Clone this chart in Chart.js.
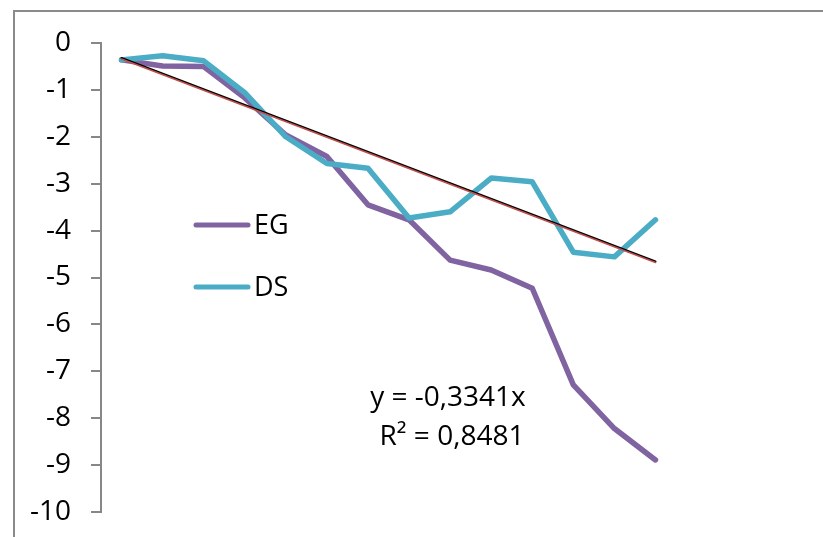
<!DOCTYPE html>
<html>
<head>
<meta charset="utf-8">
<script src="https://cdn.jsdelivr.net/npm/chart.js@4.4.1/dist/chart.umd.min.js"></script>
<style>
    html, body { margin: 0; padding: 0; background: #fff; overflow: hidden; }
    #wrap { position: relative; width: 823px; height: 537px; }
    #frame {
        position: absolute; left: 13px; top: 10px; right: -10px; bottom: -10px;
        border: 2px solid #8a8a8a; pointer-events: none;
    }
</style>
</head>
<body>
<div id="wrap">
    <canvas id="chart" width="823" height="537"></canvas>
    <div id="frame"></div>
</div>
<script>
// data
const categories = ["1", "2", "3", "4", "5", "6", "7", "8", "9", "10", "11", "12", "13", "14"];
const egValues = [-0.36, -0.49, -0.50, -1.17, -1.96, -2.42, -3.45, -3.77, -4.63, -4.84, -5.23, -7.29, -8.22, -8.89];
const dsValues = [-0.36, -0.27, -0.38, -1.06, -2.00, -2.57, -2.67, -3.73, -3.60, -2.88, -2.96, -4.46, -4.56, -3.77];
// trendlines: only the two end points, the library joins them
const trendBlack = [-0.32, null, null, null, null, null, null, null, null, null, null, null, null, -4.66];
const trendRed = [-0.34, null, null, null, null, null, null, null, null, null, null, null, null, -4.68];
const yTicks = [0, -1, -2, -3, -4, -5, -6, -7, -8, -9, -10];
const equationLines = ["y = -0,3341x", "R² = 0,8481"];

const FONT = "'Open Sans', 'DejaVu Sans', sans-serif";
const EG_COLOR = "#8064a2";
const DS_COLOR = "#4bacc6";
const AXIS_GREY = "#878787";

// legend + equation drawn inside the plot like the original
const overlayPlugin = {
    id: "overlay",
    afterDraw(chart) {
        const ctx = chart.ctx;
        const items = [
            { label: "EG", color: EG_COLOR, y: 225 },
            { label: "DS", color: DS_COLOR, y: 287 }
        ];
        ctx.save();
        ctx.lineCap = "round";
        items.forEach(it => {
            ctx.strokeStyle = it.color;
            ctx.lineWidth = 5;
            ctx.beginPath();
            ctx.moveTo(196, it.y);
            ctx.lineTo(248, it.y);
            ctx.stroke();
            ctx.fillStyle = "#000";
            ctx.font = "27px " + FONT;
            ctx.textBaseline = "middle";
            ctx.textAlign = "left";
            ctx.fillText(it.label, 254, it.y + 1);
        });
        ctx.font = "28px " + FONT;
        ctx.textAlign = "center";
        ctx.fillText(equationLines[0], 448, 398);
        ctx.fillText(equationLines[1], 452, 437);
        ctx.restore();
    }
};

new Chart(document.getElementById("chart").getContext("2d"), {
    type: "line",
    data: {
        labels: categories,
        datasets: [
            { label: "trend red", data: trendRed, borderColor: "#c0504d", borderWidth: 1.5, spanGaps: true, order: 0 },
            { label: "trend black", data: trendBlack, borderColor: "#000", borderWidth: 2, spanGaps: true, order: 1 },
            { label: "DS", data: dsValues, borderColor: DS_COLOR, borderWidth: 5.5, order: 2 },
            { label: "EG", data: egValues, borderColor: EG_COLOR, borderWidth: 5.5, order: 3 }
        ]
    },
    options: {
        responsive: false,
        animation: false,
        devicePixelRatio: 1,
        layout: { padding: { top: 43, bottom: 25, left: 0, right: 147 } },
        elements: {
            point: { radius: 0 },
            line: { tension: 0, borderJoinStyle: "round", borderCapStyle: "round", fill: false }
        },
        plugins: {
            legend: { display: false },
            tooltip: { enabled: false }
        },
        scales: {
            x: { display: false, offset: true },
            y: {
                min: -10,
                max: 0,
                afterFit: s => {
                    s.width = 101;
                    s.paddingTop = 0;
                    s.paddingBottom = 0;
                },
                afterBuildTicks: s => { s.ticks = yTicks.map(v => ({ value: v })); },
                border: { display: true, color: AXIS_GREY, width: 2 },
                grid: { drawOnChartArea: false, color: AXIS_GREY, tickColor: AXIS_GREY, lineWidth: 2, tickLength: 10 },
                ticks: { color: "#000", padding: 20, font: { family: FONT, size: 28 } }
            }
        }
    },
    plugins: [overlayPlugin]
});
</script>
</body>
</html>
